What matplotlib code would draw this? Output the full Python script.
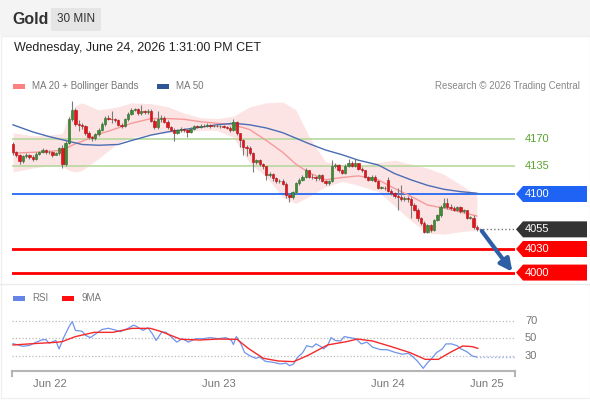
import numpy as np
import matplotlib
matplotlib.use('Agg')
import matplotlib.pyplot as plt
from matplotlib.patches import Rectangle, Polygon

plt.rcParams['font.family'] = ['Liberation Sans', 'DejaVu Sans']

# ---- Gold 30 min candles ----
opens = [4163, 4153, 4149, 4142, 4148, 4150, 4147, 4144, 4151, 4154,
         4156, 4153, 4154, 4150, 4152, 4158, 4138, 4165, 4196, 4207,
         4189, 4188, 4186, 4178, 4172, 4171, 4176, 4182, 4189, 4197,
         4196, 4195, 4194, 4188, 4187, 4195, 4202, 4207, 4208, 4203,
         4205, 4204, 4206, 4193, 4185, 4195, 4197, 4192, 4185, 4182,
         4178, 4181, 4183, 4181, 4179, 4183, 4186, 4185, 4187, 4186,
         4188, 4186, 4187, 4186, 4187, 4185, 4184, 4181, 4192, 4177,
         4169, 4160, 4159, 4152, 4141, 4143, 4138, 4135, 4124, 4125,
         4120, 4116, 4117, 4113, 4099, 4096, 4102, 4114, 4118, 4122,
         4130, 4122, 4121, 4120, 4124, 4117, 4114, 4116, 4135, 4137,
         4130, 4127, 4136, 4140, 4136, 4139, 4132, 4130, 4121, 4118,
         4122, 4117, 4108, 4108, 4118, 4104, 4101, 4097, 4096, 4093,
         4095, 4094, 4086, 4080, 4069, 4063, 4052, 4060, 4054, 4067,
         4073, 4084, 4088, 4083, 4082, 4080, 4083, 4078, 4079, 4070,
         4070, 4058]
highs = [4166, 4155, 4151, 4149, 4152, 4151, 4149, 4153, 4155, 4158,
         4157, 4156, 4155, 4154, 4160, 4162, 4167, 4198, 4218, 4210,
         4194, 4190, 4188, 4180, 4174, 4178, 4184, 4191, 4199, 4200,
         4205, 4197, 4196, 4190, 4197, 4204, 4210, 4210, 4210, 4213,
         4207, 4208, 4208, 4195, 4205, 4200, 4199, 4194, 4187, 4184,
         4183, 4185, 4184, 4183, 4185, 4188, 4188, 4189, 4189, 4190,
         4189, 4189, 4189, 4188, 4188, 4187, 4186, 4196, 4193, 4178,
         4170, 4162, 4161, 4153, 4145, 4145, 4140, 4136, 4128, 4127,
         4122, 4119, 4119, 4115, 4101, 4104, 4115, 4120, 4124, 4133,
         4131, 4126, 4123, 4126, 4125, 4118, 4118, 4143, 4139, 4138,
         4132, 4138, 4145, 4142, 4145, 4140, 4134, 4131, 4123, 4124,
         4124, 4118, 4110, 4110, 4122, 4106, 4103, 4108, 4111, 4098,
         4097, 4096, 4088, 4082, 4071, 4065, 4062, 4062, 4068, 4075,
         4086, 4095, 4095, 4087, 4085, 4085, 4085, 4081, 4080, 4072,
         4073, 4060]
lows = [4150, 4147, 4138, 4140, 4146, 4145, 4142, 4143, 4149, 4152,
        4151, 4151, 4147, 4149, 4150, 4133, 4136, 4163, 4193, 4187,
        4180, 4183, 4175, 4170, 4168, 4169, 4174, 4180, 4187, 4194,
        4190, 4192, 4186, 4184, 4185, 4193, 4200, 4205, 4201, 4201,
        4202, 4202, 4191, 4183, 4183, 4192, 4190, 4183, 4180, 4168,
        4176, 4179, 4179, 4173, 4178, 4181, 4184, 4184, 4185, 4185,
        4184, 4185, 4185, 4184, 4184, 4183, 4179, 4180, 4175, 4160,
        4150, 4148, 4150, 4128, 4138, 4136, 4132, 4118, 4121, 4117,
        4114, 4114, 4111, 4095, 4090, 4093, 4100, 4112, 4116, 4120,
        4120, 4119, 4117, 4118, 4115, 4112, 4112, 4115, 4133, 4128,
        4125, 4126, 4134, 4134, 4134, 4130, 4128, 4120, 4116, 4116,
        4115, 4106, 4106, 4105, 4103, 4099, 4095, 4080, 4091, 4091,
        4090, 4069, 4078, 4066, 4060, 4050, 4050, 4052, 4053, 4065,
        4071, 4082, 4081, 4080, 4078, 4078, 4076, 4076, 4068, 4068,
        4056, 4053]
closes = [4153, 4149, 4142, 4148, 4150, 4147, 4144, 4151, 4154, 4156,
          4153, 4154, 4150, 4152, 4158, 4138, 4165, 4196, 4207, 4189,
          4188, 4186, 4178, 4172, 4171, 4176, 4182, 4189, 4197, 4196,
          4195, 4194, 4188, 4187, 4195, 4202, 4207, 4208, 4203, 4205,
          4204, 4206, 4193, 4185, 4195, 4197, 4192, 4185, 4182, 4178,
          4181, 4183, 4181, 4179, 4183, 4186, 4185, 4187, 4186, 4188,
          4186, 4187, 4186, 4187, 4185, 4184, 4181, 4192, 4177, 4169,
          4160, 4159, 4152, 4141, 4143, 4138, 4135, 4124, 4125, 4120,
          4116, 4117, 4113, 4099, 4096, 4102, 4114, 4118, 4122, 4130,
          4122, 4121, 4120, 4124, 4117, 4114, 4116, 4135, 4137, 4130,
          4127, 4136, 4140, 4136, 4139, 4132, 4130, 4121, 4118, 4122,
          4117, 4108, 4108, 4107, 4104, 4101, 4097, 4096, 4093, 4095,
          4094, 4086, 4080, 4069, 4063, 4052, 4060, 4054, 4067, 4073,
          4084, 4088, 4083, 4082, 4080, 4083, 4078, 4079, 4070, 4070,
          4058, 4055]

# indicators, sampled at bar index
ind_idx = [0, 6, 11, 15, 17, 19, 21, 26, 32, 36, 42, 47, 52, 57, 62, 67,
           72, 77, 82, 86, 90, 95, 100, 105, 111, 116, 121, 126, 131, 136, 141]
ma20 = [4152, 4153, 4154, 4156, 4160, 4164, 4167, 4176, 4184, 4190, 4196,
        4196, 4195, 4192, 4190, 4188, 4182, 4168, 4153, 4138, 4127, 4118,
        4121, 4123, 4118, 4107, 4097, 4086, 4082, 4077, 4072]
ma50 = [4188, 4179, 4173, 4169, 4167, 4165, 4163, 4162, 4163, 4168, 4175,
        4179, 4182, 4185, 4188, 4190, 4188, 4184, 4178, 4171, 4164, 4156,
        4150, 4143, 4137, 4126, 4118, 4111, 4106, 4103, 4101]
bb_upper = [4178, 4174, 4175, 4177, 4200, 4212, 4216, 4207, 4211, 4216, 4215,
            4211, 4203, 4197, 4196, 4199, 4211, 4216, 4217, 4207, 4173, 4141,
            4138, 4136, 4140, 4143, 4138, 4133, 4125, 4112, 4098]
bb_lower = [4128, 4133, 4136, 4135, 4130, 4128, 4130, 4145, 4165, 4172, 4176,
            4178, 4179, 4181, 4181, 4172, 4139, 4122, 4096, 4088, 4097, 4109,
            4116, 4111, 4103, 4085, 4066, 4050, 4049, 4052, 4054]

rsi_idx = [0, 3, 5, 7, 9, 10, 11, 13, 14, 15.5, 17, 18, 19, 21, 22, 23.5, 25,
           27, 29, 31.5, 32.6, 35, 36.7, 37.8, 39.5, 41, 42.4, 43.5, 45.2, 46.4,
           48, 49.8, 51.5, 53.3, 55.5, 57.8, 60, 62.4, 64.7, 66.4, 67, 67.9,
           69.3, 70.4, 72.1, 73.8, 75, 76.7, 79, 81.3, 83, 84.1, 85.3, 86.4,
           88.1, 89.3, 91, 92.1, 93.9, 94.4, 95.6, 96.7, 97.9, 99.6, 100.7,
           102.4, 104.2, 105.9, 107.6, 109.3, 111.6, 113.9, 116.2, 118.4,
           120.2, 121.3, 123, 124.7, 125.9, 127, 128.8, 130.5, 131.6, 133.3,
           135, 136.2, 137.9, 139.6, 140.8]
rsi_val = [44, 41, 42, 45.6, 48.5, 48.5, 44.5, 47.6, 38, 51.6, 63, 69, 59, 58,
           53.5, 50.8, 54.7, 60, 61.4, 59, 57.5, 61.4, 65, 63, 59, 62, 55, 47.6,
           57, 57, 52, 45.7, 49.6, 45.7, 49.6, 49.6, 50.8, 49.6, 50.8, 47.6, 43,
           52, 43.7, 34, 30, 27.3, 28.8, 24, 22.9, 21, 22, 19, 21, 28, 34, 41.7,
           40, 43.7, 40, 38, 41.7, 50.8, 47.6, 47, 52, 50.8, 49.6, 43.7, 45.7,
           40, 37.3, 37, 34, 32, 33, 30, 24, 16, 22, 26, 34, 38, 43.7, 43.7,
           41.7, 38, 35, 30, 29]
rsi_ma_idx = [0, 7.5, 13.2, 14.9, 18.9, 24.7, 30.4, 36.1, 41.8, 45.2, 51, 56.7,
              62.4, 68.1, 71.5, 76.1, 80.7, 85.3, 89.9, 95.6, 101.3, 104.7,
              109.3, 115, 120.7, 125.3, 129.3, 133.3, 136.7, 139.6, 141.3]
rsi_ma_val = [42.5, 44.3, 45.5, 46.2, 51.9, 56.8, 56.8, 61.3, 61.3, 57.5, 48.9,
              48.1, 49.2, 48.9, 38.7, 27.4, 24.3, 23.6, 31.1, 42.5, 46.2, 49.2,
              47, 40.6, 33.8, 26.2, 26.2, 34.9, 41.3, 40.6, 38.7]

green_levels = [4170, 4135]
pivot = 4100
last_price = 4055
targets = [4030, 4000]
rsi_levels = [70, 50, 30]
date_ticks = [11.2, 62.6, 114, 144]
date_labels = ['Jun 22', 'Jun 23', 'Jun 24', 'Jun 25']

W, H = 590, 400
def fx(x):
    return x / W
def fy(y):
    return 1 - y / H

fig = plt.figure(figsize=(5.9, 4.0), dpi=100)
fig.patch.set_facecolor('white')

# header band
fig.patches.append(Rectangle((0, fy(36)), 1, 36 / H, transform=fig.transFigure,
                             facecolor='#f4f4f4', edgecolor='none', zorder=0))
fig.patches.append(Rectangle((fx(51), fy(31)), 50 / W, 23 / H, transform=fig.transFigure,
                             facecolor='#e5e5e5', edgecolor='none', zorder=1))
fig.text(fx(12), fy(19), 'Gold', fontsize=11.5, fontweight='bold', color='#333333', va='center')
fig.text(fx(76), fy(19), '30 MIN', fontsize=8.5, color='#333333', va='center', ha='center')
fig.text(fx(14), fy(48), 'Wednesday, June 24, 2026 1:31:00 PM CET', fontsize=9,
         color='#222222', va='center')
# frame + separator
fig.patches.append(Rectangle((fx(0.5), fy(398)), 589 / W, 362 / H, transform=fig.transFigure,
                             facecolor='none', edgecolor='#f0f0f0', lw=1, zorder=0))
fig.lines.append(plt.Line2D([0, 1], [fy(284), fy(284)], transform=fig.transFigure,
                            color='#ececec', lw=1))

# legends
fig.patches.append(Rectangle((fx(13), fy(89)), 12 / W, 5 / H, transform=fig.transFigure,
                             facecolor='#ff8080', edgecolor='none'))
fig.text(fx(32), fy(86), 'MA 20 + Bollinger Bands', fontsize=7, color='#777777', va='center')
fig.patches.append(Rectangle((fx(157), fy(89)), 12 / W, 5 / H, transform=fig.transFigure,
                             facecolor='#2f5597', edgecolor='none'))
fig.text(fx(176), fy(86), 'MA 50', fontsize=7, color='#777777', va='center')
fig.text(fx(580), fy(86), 'Research \u00a9 2026 Trading Central', fontsize=7,
         color='#888888', va='center', ha='right')
fig.patches.append(Rectangle((fx(13), fy(301)), 12 / W, 5 / H, transform=fig.transFigure,
                             facecolor='#6585e6', edgecolor='none'))
fig.text(fx(32), fy(298), 'RSI', fontsize=7, color='#777777', va='center')
fig.patches.append(Rectangle((fx(62), fy(301)), 12 / W, 5 / H, transform=fig.transFigure,
                             facecolor='#ff1010', edgecolor='none'))
fig.text(fx(82), fy(298), '9MA', fontsize=7, color='#777777', va='center')

# ---- price panel ----
ax = fig.add_axes([fx(12), fy(285), 503 / W, 210 / H])
ax.set_xlim(-0.3, 152.6)
ax.set_ylim(3984.2, 4251.4)
ax.axis('off')

ax.fill_between(ind_idx, bb_lower, bb_upper, color='#fde4e4', lw=0, zorder=1)
ax.plot(ind_idx, ma20, color='#f59a9a', lw=1, zorder=2)
ax.plot(ind_idx, ma50, color='#4a6db5', lw=1, zorder=2)

for lv in green_levels:
    ax.axhline(lv, color='#b7d99e', lw=1.2, zorder=1.5)
ax.axhline(pivot, color='#2468f2', lw=1.3, zorder=1.5)
for lv in targets:
    ax.axhline(lv, color='#ff0000', lw=2, zorder=1.5)

idx = np.arange(len(closes))
o = np.array(opens)
c = np.array(closes)
up = c >= o
ax.vlines(idx, lows, highs, color='#7a7a7a', lw=0.8, zorder=3)
body = np.where(np.abs(c - o) < 0.6, 0.6, c - o)
ax.bar(idx[up], body[up], bottom=o[up], width=0.72, color='#3d8c3a',
       edgecolor='#2b6a28', lw=0.4, zorder=4)
ax.bar(idx[~up], body[~up], bottom=o[~up], width=0.72, color='#e3141b',
       edgecolor='#b00c10', lw=0.4, zorder=4)

ax.hlines(last_price, idx[-1] + 0.8, 152.6, colors='#777777', linestyles=':', lw=1, zorder=2)
ax.annotate('', xy=(151.8, targets[-1] + 1), xytext=(idx[-1] + 1.5, closes[-1] - 2),
            arrowprops=dict(arrowstyle='-|>', color='#2e5ea6', lw=3, mutation_scale=18,
                            shrinkA=0, shrinkB=0), zorder=6)

# ---- RSI panel ----
rax = fig.add_axes([fx(12), fy(371), 503 / W, 61 / H])
rax.set_xlim(-0.3, 152.6)
rax.set_ylim(13, 82.1)
for s in ['top', 'right', 'left']:
    rax.spines[s].set_visible(False)
rax.spines['bottom'].set_color('#b5b5b5')
rax.spines['bottom'].set_linewidth(1.5)
rax.set_yticks([])
rax.set_xticks(date_ticks)
rax.set_xticklabels(date_labels, fontsize=8, color='#777777')
rax.tick_params(axis='x', length=0, pad=6)
for xe in [0, 1]:
    rax.plot([xe, xe], [0, -0.09], transform=rax.transAxes, color='#b5b5b5',
             lw=1.5, clip_on=False)
for lv in rsi_levels:
    rax.axhline(lv, color='#bbbbbb', lw=0.9, ls=':', zorder=1)
rax.plot(rsi_idx, rsi_val, color='#7094ea', lw=0.9, zorder=3)
rax.hlines(rsi_val[-1], rsi_idx[-1], 152.6, colors='#9bb3ef', linestyles=':', lw=1, zorder=2)
rax.plot(rsi_ma_idx, rsi_ma_val, color='#f42a2a', lw=1, zorder=4)

fig.canvas.draw()

def level_y(a, v):
    return a.transData.transform((0, v))[1] / fig.bbox.height

for lv in green_levels:
    fig.text(fx(525), level_y(ax, lv), str(lv), fontsize=8, color='#5aa52e', va='center')
for lv in rsi_levels:
    fig.text(fx(525), level_y(rax, lv), str(lv), fontsize=8, color='#777777', va='center')

tags = [(pivot, '#1f63f5'), (last_price, '#333333')] + [(t, '#ff0000') for t in targets]
for lv, col in tags:
    yc = level_y(ax, lv)
    hh = 8 / H
    pts = [(fx(516), yc), (fx(523), yc + hh), (fx(587), yc + hh),
           (fx(587), yc - hh), (fx(523), yc - hh)]
    fig.patches.append(Polygon(pts, closed=True, transform=fig.transFigure,
                               facecolor=col, edgecolor='none', zorder=5))
    fig.text(fx(525), yc, str(lv), fontsize=8, color='white', va='center', zorder=6)

fig.savefig('out.png', dpi=100)
